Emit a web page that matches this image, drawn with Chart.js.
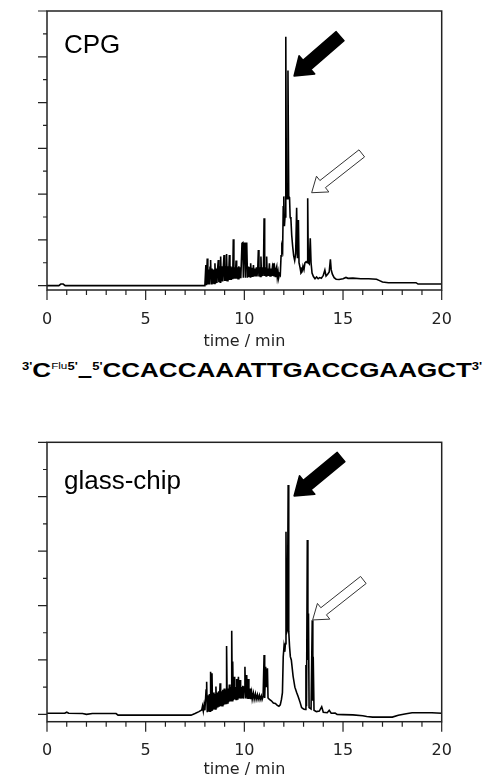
<!DOCTYPE html>
<html>
<head>
<meta charset="utf-8">
<script src="https://cdn.jsdelivr.net/npm/chart.js@4.4.1/dist/chart.umd.min.js"></script>
<style>
  html, body { margin: 0; padding: 0; background: #fff; overflow: hidden; }
  #page { position: relative; width: 491px; height: 775px; }
  canvas { position: absolute; left: 0; }
  #cpg { top: 0; }
  #chip { top: 400px; }
  #seq {
    position: absolute; left: 21.7px; top: 360px;
    font: bold 20px "Liberation Sans", Arial, sans-serif; line-height: 20px;
    white-space: nowrap; transform: scaleX(1.3); transform-origin: 0 0; color: #000;
  }
  #seq sup { font-size: 10px; vertical-align: 7px; line-height: 0; }
  #seq sup.flu { font-size: 9px; font-weight: normal; vertical-align: 8px; }
  #seq .dash { position: relative; top: 5px; }
</style>
</head>
<body>
<div id="page">
  <canvas id="cpg" width="491" height="352"></canvas>
  <div id="seq"><sup>3'</sup>C<sup class="flu">Flu</sup><sup>5'</sup><span class="dash">–</span><sup>5'</sup>CCACCAAATTGACCGAAGCT<sup>3'</sup></div>
  <canvas id="chip" width="491" height="380"></canvas>
</div>
<script>
// retention time (min) and detector signal (arb. units)

// CPG trace
var cpgTime = [
  0, 0.60, 0.70, 0.82, 0.92, 8.00, 8.05, 8.08, 8.12, 8.15,
  8.19, 8.22, 8.26, 8.29, 8.32, 8.36, 8.40, 8.44, 8.47, 8.51,
  8.54, 8.58, 8.61, 8.65, 8.68, 8.71, 8.75, 8.78, 8.80, 8.83,
  8.87, 8.90, 8.94, 8.97, 9.00, 9.04, 9.07, 9.10, 9.13, 9.17,
  9.20, 9.24, 9.27, 9.31, 9.34, 9.38, 9.41, 9.44, 9.47, 9.51,
  9.54, 9.58, 9.61, 9.65, 9.68, 9.72, 9.75, 9.79, 9.82, 9.88,
  9.92, 9.95, 9.99, 10.03, 10.06, 10.09, 10.12, 10.16, 10.20, 10.23,
  10.27, 10.30, 10.32, 10.36, 10.40, 10.43, 10.46, 10.50, 10.54, 10.57,
  10.61, 10.64, 10.68, 10.71, 10.74, 10.78, 10.81, 10.84, 10.87, 10.91,
  10.94, 10.97, 11.00, 11.03, 11.07, 11.10, 11.13, 11.16, 11.20, 11.23,
  11.27, 11.30, 11.34, 11.37, 11.41, 11.44, 11.47, 11.50, 11.54, 11.57,
  11.60, 11.64, 11.67, 11.71, 11.74, 11.78, 11.82, 11.86, 11.90, 11.94,
  11.97, 12.00, 12.03, 12.06, 12.10, 12.13, 12.17, 12.21, 12.25, 12.29,
  12.32, 12.36, 12.40, 12.45, 12.50, 12.55, 12.60, 12.65, 12.69, 12.74,
  12.77, 12.82, 12.87, 12.92, 12.97, 13.02, 13.07, 13.13, 13.18, 13.21,
  13.24, 13.29, 13.34, 13.38, 13.43, 13.50, 13.58, 13.66, 13.74, 13.82,
  13.90, 14.00, 14.08, 14.14, 14.22, 14.30, 14.36, 14.40, 14.46, 14.55,
  14.65, 14.80, 15.00, 15.15, 15.25, 15.50, 15.90, 16.30, 16.70, 16.85,
  17.00, 17.30, 18.00, 18.70, 18.80, 20.00
];
var cpgSignal = [
  0, 0, 0.07, 0.07, 0, 0, 0.9, 0.02, 1.19, 0.05,
  0.7, 0.05, 0.8, 1.12, 0.08, 0.75, 0.08, 0.7, 0.1, 0.98,
  0.1, 0.75, 0.12, 0.8, 1.12, 0.15, 0.85, 0.15, 1.27, 0.18,
  0.85, 0.18, 0.9, 1.34, 0.2, 0.85, 0.2, 1.38, 0.22, 0.85,
  0.25, 1.34, 0.25, 0.85, 0.25, 0.8, 0.28, 2.03, 0.3, 0.8,
  0.3, 1.1, 0.3, 0.8, 0.3, 0.85, 0.32, 0.8, 0.32, 1.85,
  1.88, 0.35, 1.85, 1.88, 0.35, 1.85, 1.88, 0.35, 0.83, 0.38,
  0.8, 0.38, 0.98, 0.38, 0.78, 0.38, 0.9, 0.4, 0.75, 0.4,
  0.8, 0.4, 0.78, 1.56, 0.4, 0.8, 0.4, 1.27, 0.4, 0.8,
  0.42, 0.8, 2.94, 0.42, 0.8, 0.42, 1.27, 0.42, 0.75, 0.42,
  0.98, 0.42, 0.75, 0.42, 0.72, 0.42, 0.98, 0.4, 0.7, 0.4,
  0.7, 0.83, 0.38, 0.6, 0.35, 0.5, 0.45, 1.3, 1.7, 1.55,
  3.45, 3.9, 2.6, 3.0, 10.87, 4.0, 3.8, 9.4, 3.9, 3.85,
  3.0, 2.9, 2.2, 1.7, 1.3, 1.1, 1.4, 3.4, 1.2, 2.87,
  1.0, 0.8, 0.55, 0.6, 0.85, 0.7, 1.0, 1.05, 1.0, 3.82,
  1.0, 0.95, 2.07, 1.0, 0.55, 0.4, 0.3, 0.38, 0.3, 0.35,
  0.32, 0.45, 0.68, 0.42, 0.5, 0.6, 1.15, 0.7, 0.5, 0.35,
  0.28, 0.27, 0.3, 0.36, 0.32, 0.33, 0.3, 0.3, 0.28, 0.22,
  0.16, 0.13, 0.13, 0.13, 0.07, 0.07
];

// glass-chip trace
var chipTime = [
  0, 0.90, 1.00, 1.10, 1.80, 2.00, 2.30, 3.50, 3.60, 7.30,
  7.50, 7.70, 7.84, 7.88, 7.92, 7.96, 8.00, 8.06, 8.09, 8.12,
  8.16, 8.19, 8.23, 8.26, 8.29, 8.33, 8.36, 8.39, 8.43, 8.46,
  8.50, 8.53, 8.56, 8.59, 8.63, 8.66, 8.70, 8.73, 8.77, 8.80,
  8.84, 8.87, 8.91, 8.94, 8.98, 9.01, 9.05, 9.08, 9.10, 9.13,
  9.17, 9.20, 9.24, 9.27, 9.31, 9.34, 9.36, 9.39, 9.41, 9.44,
  9.48, 9.51, 9.55, 9.58, 9.61, 9.64, 9.67, 9.70, 9.73, 9.78,
  9.81, 9.85, 9.88, 9.92, 9.95, 9.99, 10.03, 10.06, 10.09, 10.12,
  10.15, 10.20, 10.23, 10.29, 10.32, 10.37, 10.40, 10.46, 10.50, 10.56,
  10.60, 10.66, 10.70, 10.76, 10.80, 10.86, 10.90, 10.95, 11.00, 11.03,
  11.08, 11.12, 11.17, 11.20, 11.27, 11.37, 11.47, 11.57, 11.67, 11.75,
  11.82, 11.88, 11.93, 11.97, 12.01, 12.05, 12.08, 12.11, 12.14, 12.18,
  12.22, 12.25, 12.29, 12.33, 12.38, 12.47, 12.56, 12.65, 12.73, 12.82,
  12.90, 13.00, 13.08, 13.12, 13.15, 13.19, 13.22, 13.25, 13.28, 13.38,
  13.44, 13.47, 13.49, 13.53, 13.65, 13.80, 13.92, 14.00, 14.20, 14.30,
  14.40, 14.60, 14.70, 15.00, 15.50, 16.00, 16.20, 16.50, 17.50, 17.80,
  18.20, 18.50, 19.50, 20.00
];
var chipSignal = [
  0.04, 0.04, 0.08, 0.04, 0.03, 0, 0.03, 0.03, -0.03, -0.03,
  0.03, 0.1, 0.16, 0.3, 0.12, 0.35, 0.15, 0.89, 1.2, 0.08,
  0.7, 0.1, 0.75, 0.12, 1.57, 0.15, 1.51, 0.15, 0.8, 0.18,
  0.75, 0.2, 1.02, 0.22, 0.8, 0.25, 0.85, 0.28, 1.14, 0.3,
  0.85, 0.32, 0.9, 0.34, 0.95, 0.36, 0.9, 0.4, 2.51, 0.42,
  0.95, 0.45, 1.1, 0.47, 1.0, 0.5, 3.07, 0.5, 1.94, 0.52,
  1.38, 0.55, 1.0, 0.55, 1.3, 0.57, 1.0, 1.38, 0.58, 1.26,
  0.58, 1.0, 0.58, 1.05, 0.58, 1.0, 1.75, 0.58, 1.1, 1.45,
  0.57, 1.3, 0.57, 0.95, 0.56, 0.8, 0.56, 0.78, 0.55, 0.75,
  0.55, 0.72, 0.55, 0.7, 0.54, 0.68, 0.54, 0.65, 2.18, 0.6,
  1.75, 1.0, 1.69, 0.6, 0.55, 0.5, 0.42, 0.4, 0.33, 0.3,
  0.35, 0.55, 0.8, 2.12, 2.5, 2.3, 2.6, 6.71, 3.0, 3.1,
  8.43, 3.04, 2.5, 2.12, 2.0, 1.4, 1.0, 0.8, 0.65, 0.45,
  0.25, 0.2, 0.18, 1.81, 0.3, 6.41, 2.0, 3.71, 0.25, 0.2,
  3.46, 0.5, 2.12, 0.15, 0.1, 0.12, 0.28, 0.08, 0.06, 0.15,
  0.04, 0.05, 0.0, -0.01, -0.02, -0.05, -0.08, -0.1, -0.1, -0.03,
  0.02, 0.06, 0.06, 0.04
];

var xTicks = [0, 5, 10, 15, 20];
var axisTitle = 'time / min';

// arrows pointing at the product peaks (tip and tail in data units)
var cpgArrows = [
  { tail: [14.85, 10.9], tip: [12.52, 9.16], solid: true },
  { tail: [15.95, 5.78], tip: [13.41, 4.06], solid: false }
];
var chipArrows = [
  { tail: [14.9, 9.46], tip: [12.52, 8.03], solid: true },
  { tail: [16.03, 4.94], tip: [13.46, 3.47], solid: false }
];

function toPoints(ts, vs) {
  return ts.map(function (t, i) { return { x: t, y: vs[i] }; });
}

function drawArrow(ctx, xs, ys, a) {
  var x1 = xs.getPixelForValue(a.tail[0]), y1 = ys.getPixelForValue(a.tail[1]);
  var x2 = xs.getPixelForValue(a.tip[0]), y2 = ys.getPixelForValue(a.tip[1]);
  var dx = x2 - x1, dy = y2 - y1, len = Math.hypot(dx, dy);
  var ux = dx / len, uy = dy / len, nx = -uy, ny = ux;
  var body = a.solid ? 6 : 4.5, wing = a.solid ? 12 : 10, head = a.solid ? 17 : 14;
  var bx = x2 - ux * head, by = y2 - uy * head;
  ctx.beginPath();
  ctx.moveTo(x1 + nx * body, y1 + ny * body);
  ctx.lineTo(bx + nx * body, by + ny * body);
  ctx.lineTo(bx + nx * wing, by + ny * wing);
  ctx.lineTo(x2, y2);
  ctx.lineTo(bx - nx * wing, by - ny * wing);
  ctx.lineTo(bx - nx * body, by - ny * body);
  ctx.lineTo(x1 - nx * body, y1 - ny * body);
  ctx.closePath();
  ctx.lineJoin = 'round';
  if (a.solid) {
    ctx.fillStyle = '#000';
    ctx.fill();
    ctx.lineWidth = 1.5;
    ctx.strokeStyle = '#000';
    ctx.stroke();
  } else {
    ctx.fillStyle = '#fff';
    ctx.fill();
    ctx.lineWidth = 1;
    ctx.strokeStyle = '#333';
    ctx.stroke();
  }
}

// frame, tick marks, panel label and arrows
var framePlugin = {
  id: 'frame',
  afterDraw: function (chart, args, opts) {
    var ctx = chart.ctx, a = chart.chartArea;
    var xs = chart.scales.x, ys = chart.scales.y;
    ctx.save();
    ctx.strokeStyle = '#222';
    ctx.lineWidth = 1.5;
    ctx.strokeRect(a.left, a.top, a.right - a.left, a.bottom - a.top);

    ctx.lineWidth = 1.2;
    ctx.beginPath();
    for (var t = 0; t <= 20; t++) {
      var px = xs.getPixelForValue(t);
      ctx.moveTo(px, a.bottom);
      ctx.lineTo(px, a.bottom + (t % 5 === 0 ? 10 : 5));
    }
    for (var v = 0; v <= opts.yMax; v++) {
      var py = ys.getPixelForValue(v);
      ctx.moveTo(a.left, py);
      ctx.lineTo(a.left - (v % 2 === 0 ? 9 : 4), py);
    }
    ctx.stroke();

    ctx.fillStyle = '#000';
    ctx.font = '26px "Liberation Sans", Arial, sans-serif';
    ctx.textBaseline = 'alphabetic';
    ctx.textAlign = 'left';
    ctx.fillText(opts.label, a.left + 17, a.top + opts.labelDy);

    opts.arrows.forEach(function (ar) { drawArrow(ctx, xs, ys, ar); });
    ctx.restore();
  }
};

function makeChart(id, ts, vs, yMin, yMax, padTop, axisHeight, label, labelDy, arrows) {
  return new Chart(document.getElementById(id), {
    type: 'line',
    data: {
      datasets: [{
        data: toPoints(ts, vs),
        borderColor: '#000',
        borderWidth: 1.6,
        pointRadius: 0,
        tension: 0,
        fill: false
      }]
    },
    options: {
      responsive: false,
      animation: false,
      events: [],
      layout: { padding: { top: padTop, right: 49.3, left: 0, bottom: 0 } },
      plugins: {
        legend: { display: false },
        tooltip: { enabled: false },
        frame: { yMax: yMax, label: label, labelDy: labelDy, arrows: arrows }
      },
      scales: {
        x: {
          type: 'linear', min: 0, max: 20,
          afterBuildTicks: function (s) { s.ticks = xTicks.map(function (v) { return { value: v }; }); },
          afterFit: function (s) { s.height = axisHeight; },
          grid: { display: false },
          border: { display: false },
          ticks: { padding: 12, maxRotation: 0, color: '#222', font: { family: '"DejaVu Sans", sans-serif', size: 16 } },
          title: { display: true, text: axisTitle, color: '#222', padding: { top: 0, bottom: 1 },
                   font: { family: '"DejaVu Sans", sans-serif', size: 16 } }
        },
        y: {
          type: 'linear', min: yMin, max: yMax,
          afterFit: function (s) { s.width = 47; },
          grid: { display: false },
          border: { display: false },
          ticks: { display: false }
        }
      }
    },
    plugins: [framePlugin]
  });
}

makeChart('cpg', cpgTime, cpgSignal, -0.19, 12, 11, 62, 'CPG', 42, cpgArrows);
makeChart('chip', chipTime, chipSignal, -0.27, 10, 42.3, 58.3, 'glass-chip', 47, chipArrows);
</script>
</body>
</html>
